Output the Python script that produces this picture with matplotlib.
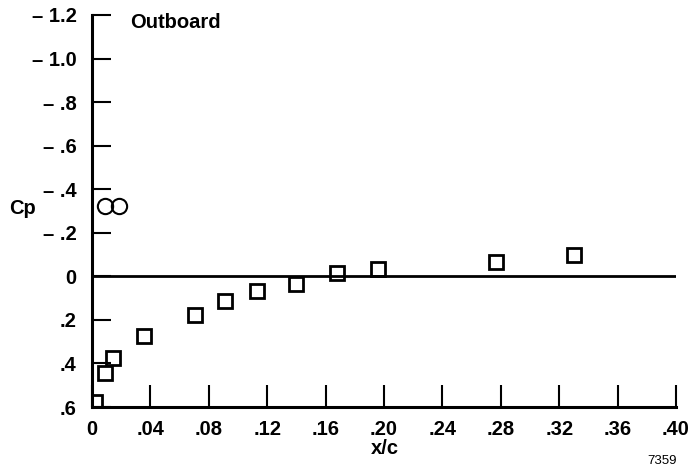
import matplotlib.pyplot as plt

# pressure data, outboard station
sq_x = [0.002, 0.009, 0.0145, 0.0355, 0.0705, 0.091, 0.113, 0.140, 0.168, 0.196, 0.277, 0.330]
sq_cp = [0.575, 0.445, 0.376, 0.275, 0.179, 0.115, 0.069, 0.037, -0.014, -0.032, -0.064, -0.100]
circ_x = [0.0088, 0.0185]
circ_cp = [-0.321, -0.321]

y_ticks = [-1.2, -1.0, -0.8, -0.6, -0.4, -0.2, 0, 0.2, 0.4, 0.6]
y_labels = ["\u2013 1.2", "\u2013 1.0", "\u2013 .8", "\u2013 .6", "\u2013 .4", "\u2013 .2", "0", ".2", ".4", ".6"]
x_ticks = [0, 0.04, 0.08, 0.12, 0.16, 0.20, 0.24, 0.28, 0.32, 0.36, 0.40]
x_labels = ["0", ".04", ".08", ".12", ".16", ".20", ".24", ".28", ".32", ".36", ".40"]

plt.rcParams['font.family'] = ['Liberation Sans', 'DejaVu Sans']
plt.rcParams['font.weight'] = 'bold'

fig = plt.figure(figsize=(6.9, 4.68), dpi=100)
ax = fig.add_axes([0.1333, 0.1303, 0.8464, 0.8377])

ax.axhline(0, color='black', lw=2.0, zorder=2)
ax.plot(sq_x, sq_cp, 's', ms=10.5, mfc='none', mec='black', mew=2.0, clip_on=True, zorder=3)
ax.plot(circ_x, circ_cp, 'o', ms=11, mfc='none', mec='black', mew=1.5, zorder=3)

ax.set_xlim(0, 0.40)
ax.set_ylim(0.6, -1.2)

ax.spines['top'].set_visible(False)
ax.spines['right'].set_visible(False)
ax.spines['left'].set_linewidth(2.2)
ax.spines['bottom'].set_linewidth(2.2)

ax.set_yticks(y_ticks)
ax.set_yticklabels(y_labels, fontsize=14.5, fontweight='bold')
ax.set_xticks(x_ticks)
ax.set_xticklabels(x_labels, fontsize=14.5, fontweight='bold')
ax.tick_params(axis='y', direction='in', length=14, width=1.5, pad=11)
ax.tick_params(axis='x', direction='in', length=16, width=1.5, pad=9)

fig.text(0.032, 0.554, "Cp", fontsize=14.5, fontweight='bold', ha='center', va='center')
fig.text(0.558, 0.042, "x/c", fontsize=14.5, fontweight='bold', ha='center', va='center')
fig.text(0.959, 0.015, "7359", fontsize=9.5, fontweight='normal', ha='center', va='center')
ax.text(0.026, -1.165, "Outboard", fontsize=14.5, fontweight='bold', ha='left', va='center')

fig.savefig("out.png", dpi=100)
